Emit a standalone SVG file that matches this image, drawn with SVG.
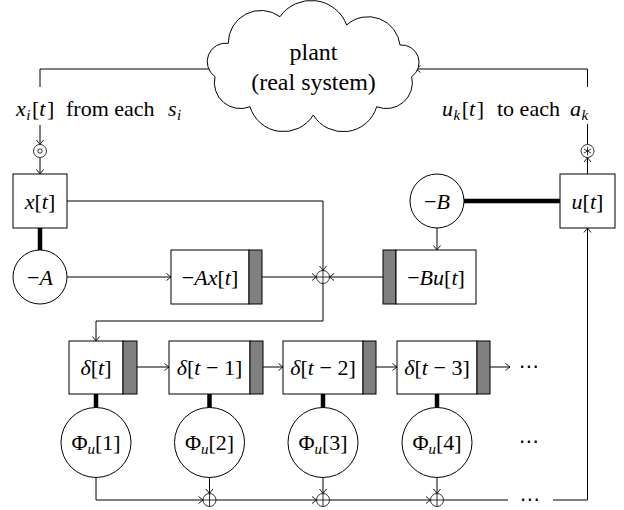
<svg xmlns="http://www.w3.org/2000/svg" width="624" height="510" viewBox="0 0 624 510">
<defs>
<style>
.ln{fill:none;stroke:#000;stroke-width:1}
.ar{marker-end:url(#ar)}
.thick{stroke:#000;stroke-width:4.5;fill:none}
.box{fill:#fff;stroke:#000;stroke-width:1}
.bar{fill:#808080;stroke:#000;stroke-width:1}
.circ{fill:#fff;stroke:#000;stroke-width:1}
.sym{fill:#fff;stroke:#000;stroke-width:0.8}
.m{font-family:"Liberation Serif","Times New Roman",serif;font-size:22px;fill:#000}
.t{font-family:"Liberation Serif","Times New Roman",serif;font-size:22px;fill:#000}
.big{font-family:"Liberation Serif","Times New Roman",serif;font-size:24px;fill:#000;text-anchor:middle}
.it{font-style:italic}
.sub{font-size:15px;font-style:italic}
.c{text-anchor:middle}
.dots{font-family:"DejaVu Sans",sans-serif;font-size:20px;text-anchor:middle;fill:#000}
</style>
<marker id="ar" viewBox="-6 -5 7 10" refX="0" refY="0" markerWidth="7" markerHeight="10" markerUnits="userSpaceOnUse" orient="auto">
<path d="M-4.5,-3.5 Q-1.2,-0.9 0,0 Q-1.2,0.9 -4.5,3.5" fill="none" stroke="#000" stroke-width="0.9"/>
</marker>
<g id="oplus" class="sym"><circle r="6.5"/><path d="M-6.5,0H6.5M0,-6.5V6.5"/></g>
<g id="odotsym" class="sym"><circle r="6.5"/><circle r="2.2"/></g>
<g id="astsym" class="sym"><circle r="6.5"/><path d="M0,-4.2V4.2M-3.64,-2.1L3.64,2.1M-3.64,2.1L3.64,-2.1"/></g>
</defs>
<rect width="624" height="510" fill="#fff"/>

<g id="connectors">
<path class="ln" d="M210,69 H40 V87"/>
<path class="ln ar" d="M40,125 V144.5"/>
<path class="ln ar" d="M40,157.5 V174"/>
<path class="ln ar" d="M587.5,87 V69 H416"/>
<path class="ln" d="M587.5,144.5 V124"/>
<path class="ln ar" d="M587.5,174 V157.5"/>
<path class="thick" d="M40,228 V250"/>
<path class="thick" d="M464,201 H560"/>
<path class="ln ar" d="M67,201 H323 V270.5"/>
<path class="ln ar" d="M67,277 H171"/>
<path class="ln ar" d="M262,277 H316.5"/>
<path class="ln ar" d="M383,277 H329.5"/>
<path class="ln ar" d="M437,228 V250"/>
<path class="ln ar" d="M323,283.5 V321 H96 V341"/>
<path class="ln ar" d="M587.5,500 V228"/>
<path class="ln ar" d="M137,367 H169"/>
<path class="ln ar" d="M263,367 H283"/>
<path class="ln ar" d="M376,367 H397"/>
<path class="ln ar" d="M490,367 H510"/>
<path class="thick" d="M96,394 V408"/>
<path class="thick" d="M209.5,394 V408"/>
<path class="thick" d="M323,394 V408"/>
<path class="thick" d="M437,394 V408"/>
<path class="ln ar" d="M96,477.5 V500 H203"/>
<path class="ln ar" d="M209.5,477.5 V493.5"/>
<path class="ln ar" d="M323,477.5 V493.5"/>
<path class="ln ar" d="M437,477.5 V493.5"/>
<path class="ln ar" d="M216,500 H316.5"/>
<path class="ln ar" d="M329.5,500 H430.5"/>
<path class="ln" d="M443.5,500 H508"/>
<path class="ln" d="M553,500 H587.5"/>
</g>

<g id="plant">
<path d="M228.3,43.3 A32.5,32.5 0 0 1 280,16.7 A38,38 0 0 1 346.7,25 A32,32 0 0 1 400,45 A17.5,17.5 0 0 1 411.7,76.7 A26,26 0 0 1 376.7,106.7 A35,35 0 0 1 313.3,115 A35,35 0 0 1 250,106.7 A26,26 0 0 1 215,76.7 A18.5,18.5 0 0 1 228.3,43.3 Z" fill="#fff" stroke="#000" stroke-width="1"/>
<text class="big" x="313.5" y="60">plant</text>
<text class="big" x="313.5" y="90">(real system)</text>
</g>

<g id="label-sensors">
<text class="m" x="16" y="116"><tspan class="it">x</tspan><tspan class="sub" dy="4" dx="0.5">i</tspan><tspan dy="-4" dx="1.5">[</tspan><tspan class="it">t</tspan><tspan dx="1.5">]</tspan></text>
<text class="t" x="66" y="116">from each</text>
<text class="m" x="168" y="116"><tspan class="it">s</tspan><tspan class="sub" dy="4" dx="0.5">i</tspan></text>
</g>
<g id="label-actuators">
<text class="m" x="442" y="116"><tspan class="it">u</tspan><tspan class="sub" dy="4" dx="0.5">k</tspan><tspan dy="-4" dx="1.5">[</tspan><tspan class="it">t</tspan><tspan dx="1.5">]</tspan></text>
<text class="t" x="497" y="116">to each</text>
<text class="m" x="570" y="116"><tspan class="it">a</tspan><tspan class="sub" dy="4" dx="0.5">k</tspan></text>
</g>

<g id="odot"><use href="#odotsym" x="40" y="151"/></g>
<g id="circledast"><use href="#astsym" x="587.5" y="151"/></g>

<g id="x">
<rect class="box" x="13" y="174" width="54" height="54"/>
<text class="m c" x="40" y="208.5"><tspan class="it">x</tspan>[<tspan class="it">t</tspan>]</text>
</g>
<g id="negA">
<circle class="circ" cx="40" cy="277" r="27"/>
<text class="m c" x="40" y="284.5">−<tspan class="it">A</tspan></text>
</g>
<g id="Ax">
<rect class="box" x="171" y="250" width="78" height="54"/>
<rect class="bar" x="249" y="250" width="13" height="54"/>
<text class="m c" x="210" y="284.5">−<tspan class="it">Ax</tspan>[<tspan class="it">t</tspan>]</text>
</g>
<g id="sum"><use href="#oplus" x="323" y="277"/></g>
<g id="Bu">
<rect class="bar" x="383" y="250" width="13" height="54"/>
<rect class="box" x="396" y="250" width="80" height="54"/>
<text class="m c" x="436" y="284.5">−<tspan class="it">Bu</tspan>[<tspan class="it">t</tspan>]</text>
</g>
<g id="negB">
<circle class="circ" cx="437" cy="201" r="27"/>
<text class="m c" x="437" y="208.5">−<tspan class="it">B</tspan></text>
</g>
<g id="u">
<rect class="box" x="560" y="174" width="55" height="54"/>
<text class="m c" x="587.5" y="208.5"><tspan class="it">u</tspan>[<tspan class="it">t</tspan>]</text>
</g>

<g id="d0">
<rect class="box" x="69" y="341" width="54" height="53"/>
<rect class="bar" x="123" y="341" width="14" height="53"/>
<text class="m c" x="96" y="374.5"><tspan class="it">δ</tspan>[<tspan class="it">t</tspan>]</text>
</g>
<g id="d1">
<rect class="box" x="169" y="341" width="81" height="53"/>
<rect class="bar" x="250" y="341" width="13" height="53"/>
<text class="m c" x="209.5" y="374.5"><tspan class="it">δ</tspan>[<tspan class="it">t</tspan> − 1]</text>
</g>
<g id="d2">
<rect class="box" x="283" y="341" width="80" height="53"/>
<rect class="bar" x="363" y="341" width="13" height="53"/>
<text class="m c" x="323" y="374.5"><tspan class="it">δ</tspan>[<tspan class="it">t</tspan> − 2]</text>
</g>
<g id="d3">
<rect class="box" x="397" y="341" width="80" height="53"/>
<rect class="bar" x="477" y="341" width="13" height="53"/>
<text class="m c" x="437" y="374.5"><tspan class="it">δ</tspan>[<tspan class="it">t</tspan> − 3]</text>
</g>
<g id="dots-d"><text class="dots" x="529" y="373">⋯</text></g>

<g id="phi1">
<circle class="circ" cx="96" cy="442.5" r="35"/>
<text class="m c" x="96" y="449.5">Φ<tspan class="sub" dy="4">u</tspan><tspan dy="-4">[1]</tspan></text>
</g>
<g id="phi2">
<circle class="circ" cx="209.5" cy="442.5" r="35"/>
<text class="m c" x="209.5" y="449.5">Φ<tspan class="sub" dy="4">u</tspan><tspan dy="-4">[2]</tspan></text>
</g>
<g id="phi3">
<circle class="circ" cx="323" cy="442.5" r="35"/>
<text class="m c" x="323" y="449.5">Φ<tspan class="sub" dy="4">u</tspan><tspan dy="-4">[3]</tspan></text>
</g>
<g id="phi4">
<circle class="circ" cx="437" cy="442.5" r="35"/>
<text class="m c" x="437" y="449.5">Φ<tspan class="sub" dy="4">u</tspan><tspan dy="-4">[4]</tspan></text>
</g>
<g id="dots-phi"><text class="dots" x="529" y="448">⋯</text></g>

<g id="sum1"><use href="#oplus" x="209.5" y="500"/></g>
<g id="sum2"><use href="#oplus" x="323" y="500"/></g>
<g id="sum3"><use href="#oplus" x="437" y="500"/></g>
<g id="dots-sum"><text class="dots" x="530" y="506">⋯</text></g>
</svg>
